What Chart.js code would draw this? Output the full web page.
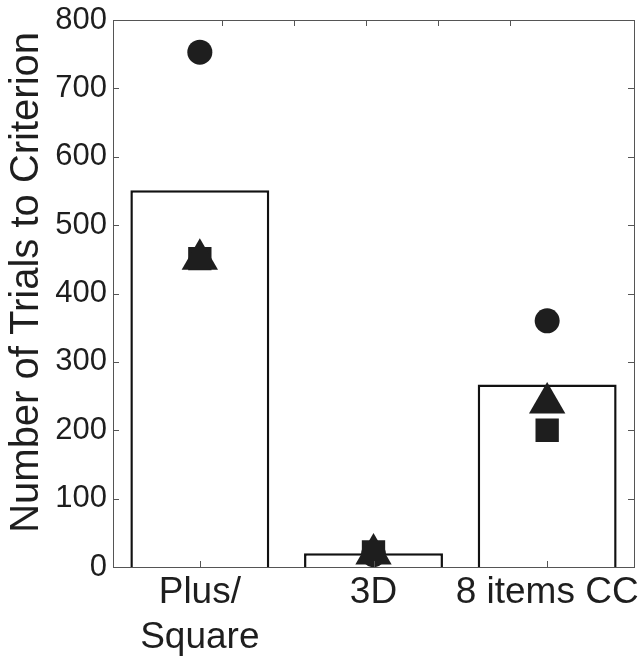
<!DOCTYPE html>
<html>
<head>
<meta charset="utf-8">
<script src="https://cdn.jsdelivr.net/npm/chart.js@4"></script>
<style>
html, body { margin: 0; padding: 0; background: #fff; }
#wrap { width: 641px; height: 657px; }
</style>
</head>
<body>
<div id="wrap"><canvas id="canvas"></canvas></div>
<script>
// values
var categories = [["Plus/", "Square"], "3D", "8 items CC"]
var meanTrials = [551, 20, 267]
var circleTrials = [753, 18, 360]
var squareTrials = [451, 22, 200]
var triangleTrials = [450, 19, 240]
var yTicks = [0, 100, 200, 300, 400, 500, 600, 700, 800]
var topTicks = [1, 2, 3, 4, 5]

var ink = "#1e1e1e"
var axisColor = "#555"
var fontFamily = "'Liberation Sans', Arial, sans-serif"

// box round the plot and the small inward ticks (matlab style)
var boxTicks = {
    id: "boxTicks",
    afterDatasetsDraw: function(chart) {
        var ctx = chart.ctx
        var area = chart.chartArea
        var x = chart.scales.x
        var y = chart.scales.y
        var x2 = chart.scales.x2
        var len = 6
        ctx.save()
        ctx.strokeStyle = axisColor
        ctx.lineWidth = 1
        ctx.beginPath()
        yTicks.forEach(function(v) {
            var py = Math.round(y.getPixelForValue(v)) + 0.5
            ctx.moveTo(area.left, py)
            ctx.lineTo(area.left + len, py)
            ctx.moveTo(area.right, py)
            ctx.lineTo(area.right - len, py)
        })
        categories.forEach(function(c, i) {
            var px = Math.round(x.getPixelForValue(i)) + 0.5
            ctx.moveTo(px, area.bottom)
            ctx.lineTo(px, area.bottom - len)
        })
        topTicks.forEach(function(v) {
            var px = Math.round(x2.getPixelForValue(v)) + 0.5
            ctx.moveTo(px, area.top)
            ctx.lineTo(px, area.top + len)
        })
        ctx.stroke()
        ctx.strokeRect(Math.round(area.left) + 0.5, Math.round(area.top) + 0.5,
            Math.round(area.right - area.left), Math.round(area.bottom - area.top))
        ctx.restore()
    }
}

function markerSet(label, values, style, radius, order) {
    return {
        type: "line",
        label: label,
        data: values,
        showLine: false,
        pointStyle: style,
        pointRadius: radius,
        pointHoverRadius: radius,
        pointBackgroundColor: ink,
        pointBorderColor: ink,
        pointBorderWidth: 0,
        order: order
    }
}

var chartData = {
    labels: categories,
    datasets: [
        {
            type: "bar",
            label: "mean",
            data: meanTrials,
            backgroundColor: "#ffffff",
            borderColor: "#111",
            borderWidth: 2.5,
            barPercentage: 0.8,
            categoryPercentage: 1,
            order: 3
        },
        markerSet("circle", circleTrials, "circle", 12.5, 2),
        markerSet("square", squareTrials, "rect", 16.5, 1),
        markerSet("triangle", triangleTrials, "triangle", 21, 0)
    ]
}

function noPadding(scale) {
    scale.paddingLeft = 0
    scale.paddingRight = 0
    scale.paddingTop = 0
    scale.paddingBottom = 0
}

var options = {
    responsive: true,
    maintainAspectRatio: false,
    animation: false,
    layout: {
        autoPadding: false,
        padding: { top: 20, right: 7, left: 0, bottom: 0 }
    },
    plugins: {
        legend: { display: false },
        tooltip: { enabled: false }
    },
    scales: {
        x: {
            type: "category",
            offset: true,
            grid: { display: false, drawTicks: false },
            border: { display: false },
            ticks: {
                color: ink,
                padding: 4,
                autoSkip: false,
                maxRotation: 0,
                font: { family: fontFamily, size: 37, lineHeight: 1.2 }
            },
            afterFit: function(scale) {
                scale.height = 90
                noPadding(scale)
            }
        },
        x2: {
            type: "linear",
            position: "top",
            min: 0,
            max: 6.2,
            grid: { display: false, drawTicks: false },
            border: { display: false },
            ticks: { display: false },
            afterFit: function(scale) {
                scale.height = 0
                noPadding(scale)
            }
        },
        y: {
            min: 0,
            max: 800,
            grid: { display: false, drawTicks: false },
            border: { display: false },
            ticks: {
                stepSize: 100,
                color: ink,
                padding: 6,
                font: { family: fontFamily, size: 31 }
            },
            title: {
                display: true,
                text: "  Number of Trials to Criterion",
                color: ink,
                padding: { top: 3, bottom: 0 },
                font: { family: fontFamily, size: 40 }
            },
            afterFit: function(scale) {
                scale.width = 113
                noPadding(scale)
            }
        }
    }
}

var myChart = new Chart(document.getElementById("canvas").getContext("2d"), {
    type: "bar",
    data: chartData,
    options: options,
    plugins: [boxTicks]
})
</script>
</body>
</html>
